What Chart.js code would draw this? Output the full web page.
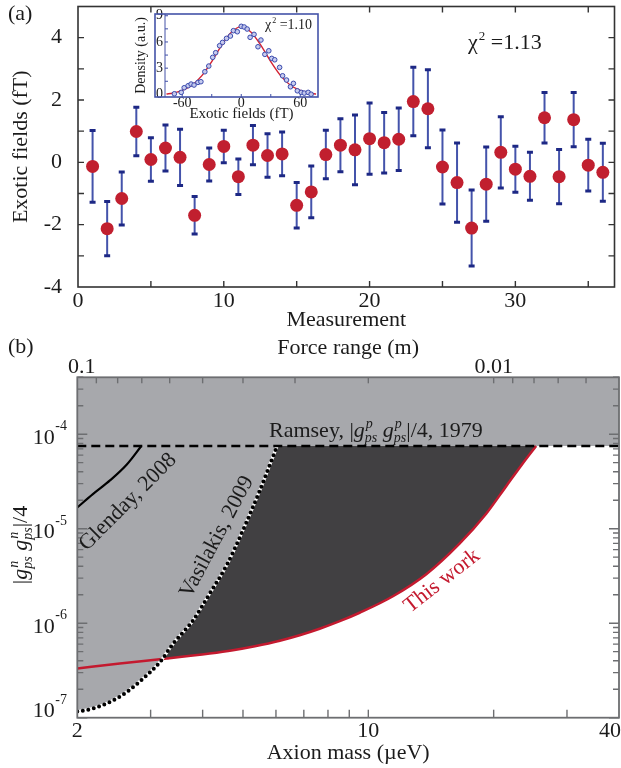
<!DOCTYPE html>
<html>
<head>
<meta charset="utf-8">
<script src="https://cdn.jsdelivr.net/npm/chart.js@4.4.1/dist/chart.umd.min.js"></script>
<style>
  html, body { margin: 0; padding: 0; background: #fff; width: 621px; height: 768px; overflow: hidden; }
  canvas { position: absolute; }
  #panelA { left: 0; top: 0; }
  #panelB { left: 0; top: 335px; }
  #inset { left: 120px; top: 0; }
</style>
</head>
<body>
<canvas id="panelA" width="621" height="335"></canvas>
<canvas id="panelB" width="621" height="433"></canvas>
<canvas id="inset" width="210" height="125"></canvas>
<script>
// ---------- (a) measured exotic fields ----------
const measurement = [1,2,3,4,5,6,7,8,9,10,11,12,13,14,15,16,17,18,19,20,21,22,23,24,25,26,27,28,29,30,31,32,33,34,35,36];
const exoticField = [-0.13,-2.13,-1.16,0.99,0.09,0.46,0.16,-1.70,-0.07,0.51,-0.46,0.55,0.22,0.27,-1.38,-0.95,
                     0.25,0.55,0.40,0.76,0.63,0.74,1.95,1.72,-0.15,-0.65,-2.11,-0.70,0.32,-0.22,-0.45,1.43,-0.46,1.37,-0.09,-0.32];
const fieldError  = [1.15,0.87,0.85,0.78,0.70,0.74,0.90,0.60,0.53,0.52,0.57,0.63,0.70,0.70,0.73,0.83,
                     0.78,0.85,1.12,1.14,0.97,1.00,1.10,1.25,1.19,1.27,1.22,1.19,1.14,0.74,0.77,0.81,0.87,0.87,0.83,0.93];
const measurementTickLabels = [0, 10, 20, 30];
const measurementTickMarks = [5, 10, 15, 20, 25, 30, 35];
const fieldTickLabels = [-4, -2, 0, 2, 4];
const fieldTickMarks = [-3, -2, -1, 0, 1, 2, 3, 4];

// ---------- inset: distribution of the fields ----------
const histField   = [-68,-61,-58,-54,-51,-48,-44,-41,-37,-33,-29,-26,-22,-19,-15,-11,-8,-4,0,3,6,9,13,17,20,24,28,31,34,39,42,46,50,53,57,61,64,68,71];
const histDensity = [0.07,0.23,0.76,0.99,1.18,1.07,1.37,1.45,2.59,3.24,4.24,4.77,5.57,5.95,6.41,6.68,7.29,7.17,7.79,7.71,7.48,6.53,6.87,5.45,6.22,4.58,4.99,4.12,3.96,3.09,2.13,1.64,0.87,1.26,0.41,0.23,0.15,0.23,0.02];
const fitField    = [-76,-70,-60,-50,-40,-30,-20,-10,0,10,20,30,40,50,60,70,76];
const fitDensity  = [0.04,0.13,0.45,1.05,2.15,3.75,5.6,7.1,7.75,7.1,5.6,3.75,2.15,1.05,0.45,0.13,0.04];
const insetFieldTicks = [-60, 0, 60];
const insetDensityTicks = [0, 3, 6, 9];

// ---------- (b) coupling limits vs axion mass (µeV) ----------
const glendayMass = [2.0, 2.18, 2.40, 2.63, 2.85];
const glendayCoupling = [1.68e-5, 2.32e-5, 3.26e-5, 4.78e-5, 7.5e-5];
const ramseyMass = [2, 40];
const ramseyCoupling = [7.5e-5, 7.5e-5];
const vasilakisMass = [2.0, 2.18, 2.40, 2.63, 2.88, 3.16, 3.40, 3.80, 4.16, 4.57, 5.00, 5.49, 5.90, 6.04];
const vasilakisCoupling = [1.16e-7, 1.25e-7, 1.47e-7, 1.87e-7, 2.60e-7, 3.89e-7, 6.09e-7, 1.08e-6, 2.06e-6, 4.11e-6, 9.64e-6, 2.55e-5, 5.75e-5, 7.5e-5];
const thisWorkMass = [2.0, 2.53, 3.28, 4.16, 4.73, 5.34, 6.13, 6.84, 7.64, 8.54, 9.53, 11.46, 13.78, 16.56, 19.19, 21.44, 23.49, 25.3];
const thisWorkCoupling = [3.32e-7, 3.75e-7, 4.23e-7, 4.78e-7, 5.18e-7, 5.71e-7, 6.53e-7, 7.46e-7, 8.74e-7, 1.05e-6, 1.29e-6, 1.93e-6, 3.30e-6, 6.94e-6, 1.44e-5, 2.82e-5, 4.9e-5, 7.5e-5];
const massTickLabels = [2, 10, 40];
const massTickMarks = [3, 4, 5, 6, 7, 8, 9, 10, 20, 30];
const rangeTickLabels = [0.1, 0.01];
const rangeTickMarks = [0.09, 0.08, 0.07, 0.06, 0.05, 0.04, 0.03, 0.02, 0.01, 0.009, 0.008, 0.007, 0.006];
const couplingDecades = [-7, -6, -5, -4];
const RANGE_TIMES_MASS = 0.2; // force range (m) x axion mass (µeV)

const couplingMajor = couplingDecades.map(e => Math.pow(10, e));
const couplingMinor = [];
couplingDecades.forEach(e => { for (let k = 2; k <= 9; k++) { const v = k * Math.pow(10, e); if (v <= 4e-4) couplingMinor.push(v); } });

const FONT = "'Liberation Serif', 'Times New Roman', serif";
const INK = '#1b1b1b';
const LIGHT = '#a7a8ac';
const DARK = '#414042';
const RED = '#c41a2f';
Chart.defaults.font.family = FONT;
Chart.defaults.color = INK;

const zip = (xs, ys) => xs.map((x, i) => ({ x, y: ys[i] }));
// fixed axis box sizes, no extra room for end labels
const fixWidth = w => s => { s.width = w; s.paddingTop = s.paddingBottom = s.paddingLeft = s.paddingRight = 0; };
const fixHeight = h => s => { s.height = h; s.paddingTop = s.paddingBottom = s.paddingLeft = s.paddingRight = 0; };

// inward tick marks and the frame round the plot area
Chart.register({
  id: 'innerTicks',
  afterDatasetsDraw(chart, args, opts) {
    const { ctx, chartArea: a } = chart;
    ctx.save();
    ctx.strokeStyle = opts.color || '#333';
    ctx.lineWidth = opts.width || 1.4;
    (opts.marks || []).forEach(m => {
      const s = chart.scales[m.scale];
      m.values.forEach(v => {
        const p = s.getPixelForValue(v);
        ctx.beginPath();
        m.sides.forEach(side => {
          if (side === 'bottom') { ctx.moveTo(p, a.bottom); ctx.lineTo(p, a.bottom - m.len); }
          if (side === 'top') { ctx.moveTo(p, a.top); ctx.lineTo(p, a.top + m.len); }
          if (side === 'left') { ctx.moveTo(a.left, p); ctx.lineTo(a.left + m.len, p); }
          if (side === 'right') { ctx.moveTo(a.right, p); ctx.lineTo(a.right - m.len, p); }
        });
        ctx.stroke();
      });
    });
    if (opts.frame) {
      ctx.strokeStyle = opts.frame;
      ctx.lineWidth = opts.frameWidth || 1.5;
      ctx.strokeRect(a.left, a.top, a.right - a.left, a.bottom - a.top);
    }
    ctx.restore();
  }
});

// text with italic symbols and stacked super/subscripts
function drawRich(ctx, parts, x, y, size) {
  let cx = x;
  parts.forEach(p => {
    if (p.t !== undefined) {
      ctx.font = (p.i ? 'italic ' : '') + size + 'px ' + FONT;
      ctx.fillText(p.t, cx, y);
      cx += ctx.measureText(p.t).width;
    } else {
      const s = Math.round(size * 0.62);
      ctx.font = 'italic ' + s + 'px ' + FONT;
      const w1 = ctx.measureText(p.sup).width, w2 = ctx.measureText(p.sub).width;
      ctx.fillText(p.sup, cx + 1, y - size * 0.40);
      ctx.fillText(p.sub, cx, y + size * 0.22);
      cx += Math.max(w1 + 1, w2);
    }
  });
  return cx - x;
}
function richWidth(ctx, parts, size) {
  ctx.save(); ctx.globalAlpha = 0;
  const w = drawRich(ctx, parts, 0, 0, size);
  ctx.restore();
  return w;
}
function drawChi(ctx, x, y, size, value) {
  ctx.font = size + 'px ' + FONT;
  ctx.fillText('\u03C7', x, y);
  let cx = x + ctx.measureText('\u03C7').width + 1;
  ctx.font = Math.round(size * 0.6) + 'px ' + FONT;
  ctx.fillText('2', cx, y - size * 0.42);
  cx += ctx.measureText('2').width;
  ctx.font = size + 'px ' + FONT;
  ctx.fillText(' =' + value, cx, y);
}

// ---------- panel (a) ----------
const errorBarPoints = [];
measurement.forEach((m, i) => {
  errorBarPoints.push({ x: m, y: exoticField[i] - fieldError[i] });
  errorBarPoints.push({ x: m, y: exoticField[i] + fieldError[i] });
  errorBarPoints.push({ x: m, y: null });
});

new Chart(document.getElementById('panelA'), {
  type: 'line',
  data: {
    datasets: [
      { label: 'Exotic fields', data: zip(measurement, exoticField), showLine: false,
        pointRadius: 6.5, pointHoverRadius: 6.5, pointBackgroundColor: '#c11f2f', pointBorderWidth: 0, order: 0 },
      { label: 'Uncertainty', data: errorBarPoints, borderColor: '#4453ab', borderWidth: 2, spanGaps: false,
        pointStyle: 'line', pointRadius: 3, pointHoverRadius: 3, pointBorderColor: '#1d2885', pointBorderWidth: 3, order: 1 }
    ]
  },
  options: {
    responsive: false, animation: false,
    layout: { padding: { top: 4, right: 5, left: 0, bottom: 0 } },
    plugins: {
      legend: { display: false }, tooltip: { enabled: false },
      innerTicks: {
        color: '#333', width: 1.4, frame: '#333', frameWidth: 1.6,
        marks: [
          { scale: 'x', values: measurementTickMarks, len: 6, sides: ['top', 'bottom'] },
          { scale: 'y', values: fieldTickMarks, len: 6, sides: ['left', 'right'] }
        ]
      }
    },
    scales: {
      x: {
        type: 'linear', min: 0, max: 36.8,
        grid: { display: false, drawTicks: false }, border: { display: false },
        afterBuildTicks: s => { s.ticks = measurementTickLabels.map(v => ({ value: v })); },
        afterFit: fixHeight(48),
        ticks: { font: { size: 22 }, padding: 1, maxRotation: 0, color: INK },
        title: { display: true, text: 'Measurement', font: { size: 22 }, color: INK, padding: { top: 0, bottom: 2 } }
      },
      y: {
        type: 'linear', min: -4, max: 5,
        grid: { display: false, drawTicks: false }, border: { display: false },
        afterBuildTicks: s => { s.ticks = fieldTickLabels.map(v => ({ value: v })); },
        afterFit: fixWidth(78),
        ticks: { font: { size: 22 }, padding: 16, color: INK, callback: v => String(v) },
        title: { display: true, text: 'Exotic fields (fT)', font: { size: 22 }, color: INK, padding: { top: 8, bottom: 0 } }
      }
    }
  },
  plugins: [{
    id: 'panelAText',
    afterDraw(chart) {
      const ctx = chart.ctx;
      ctx.save();
      ctx.fillStyle = INK; ctx.textBaseline = 'alphabetic'; ctx.textAlign = 'left';
      ctx.font = '22px ' + FONT;
      ctx.fillText('(a)', 8, 20);
      drawChi(ctx, 468, 49, 22, '1.13');
      ctx.restore();
    }
  }]
});

// ---------- inset ----------
new Chart(document.getElementById('inset'), {
  type: 'line',
  data: {
    datasets: [
      { label: 'Histogram', data: zip(histField, histDensity), showLine: false, pointRadius: 2.3, pointHoverRadius: 2.3,
        pointBackgroundColor: 'rgba(196,202,238,0.95)', pointBorderColor: '#3a4aae', pointBorderWidth: 1, order: 0 },
      { label: 'Gaussian fit', data: zip(fitField, fitDensity), borderColor: '#d42232', borderWidth: 1.4,
        pointRadius: 0, cubicInterpolationMode: 'monotone', order: 1 }
    ]
  },
  options: {
    responsive: false, animation: false,
    layout: { padding: { top: 14, right: 12, left: 0, bottom: 0 } },
    plugins: {
      legend: { display: false }, tooltip: { enabled: false },
      innerTicks: {
        color: '#3f4ea6', width: 1,
        marks: [
          { scale: 'x', values: [-60, -30, 0, 30, 60], len: 3, sides: ['bottom'] },
          { scale: 'y', values: [1.5, 3, 4.5, 6, 7.5, 9], len: 3, sides: ['left'] }
        ]
      }
    },
    scales: {
      x: {
        type: 'linear', min: -77.5, max: 78,
        grid: { display: false, drawTicks: false }, border: { display: false },
        afterBuildTicks: s => { s.ticks = insetFieldTicks.map(v => ({ value: v })); },
        afterFit: fixHeight(28),
        ticks: { font: { size: 14 }, padding: -2, maxRotation: 0, color: INK },
        title: { display: true, text: 'Exotic fields (fT)', font: { size: 15 }, color: INK, padding: { top: 0, bottom: 2 } }
      },
      y: {
        type: 'linear', min: -0.3, max: 9.2,
        grid: { display: false, drawTicks: false }, border: { display: false },
        afterBuildTicks: s => { s.ticks = insetDensityTicks.map(v => ({ value: v })); },
        afterFit: fixWidth(45),
        ticks: { font: { size: 14 }, padding: 2, color: INK },
        title: { display: true, text: 'Density (a.u.)', font: { size: 14 }, color: INK, padding: { top: 13, bottom: 0 } }
      }
    }
  },
  plugins: [{
    id: 'insetFrame',
    beforeDraw(chart) {
      const { ctx, chartArea: a } = chart;
      ctx.save();
      ctx.fillStyle = '#fff';
      ctx.fillRect(35, a.top, a.right - 35, a.bottom - a.top);
      ctx.restore();
    },
    afterDraw(chart) {
      const { ctx, chartArea: a } = chart;
      ctx.save();
      ctx.strokeStyle = '#4453a8'; ctx.lineWidth = 1.6;
      ctx.strokeRect(35, a.top, a.right - 35, a.bottom - a.top);
      ctx.lineWidth = 1;
      ctx.beginPath(); ctx.moveTo(a.left, a.top); ctx.lineTo(a.left, a.bottom); ctx.stroke();
      ctx.fillStyle = INK; ctx.textAlign = 'left'; ctx.textBaseline = 'alphabetic';
      drawChi(ctx, 145, 29, 14, '1.10');
      ctx.restore();
    }
  }]
});

// ---------- panel (b) ----------
const ramseyLabel = [{ t: 'Ramsey, ' }, { t: '|' }, { t: 'g', i: true }, { sup: 'p', sub: 'ps' },
                     { t: ' ' }, { t: 'g', i: true }, { sup: 'p', sub: 'ps' }, { t: '|/4, 1979' }];
const couplingTitle = [{ t: '|' }, { t: 'g', i: true }, { sup: 'n', sub: 'ps' },
                       { t: ' ' }, { t: 'g', i: true }, { sup: 'n', sub: 'ps' }, { t: '|/4' }];

new Chart(document.getElementById('panelB'), {
  type: 'line',
  data: {
    datasets: [
      { label: 'Glenday, 2008', data: zip(glendayMass, glendayCoupling), borderColor: '#000', borderWidth: 2.2,
        pointRadius: 0, fill: false, cubicInterpolationMode: 'monotone' },
      { label: 'Ramsey, 1979', data: zip(ramseyMass, ramseyCoupling), borderColor: '#000', borderWidth: 2.5,
        borderDash: [9, 5], pointRadius: 0, fill: 'end', backgroundColor: LIGHT },
      { label: 'Vasilakis, 2009', data: zip(vasilakisMass, vasilakisCoupling), borderColor: '#000', borderWidth: 4,
        borderDash: [0, 5.6], borderCapStyle: 'round', pointRadius: 0, fill: false, cubicInterpolationMode: 'monotone' },
      { label: 'Vasilakis, 2009 region', data: zip(vasilakisMass, vasilakisCoupling), borderColor: '#ffffff', borderWidth: 3,
        pointRadius: 0, fill: 'end', backgroundColor: LIGHT, cubicInterpolationMode: 'monotone' },
      { label: 'This work', data: zip(thisWorkMass, thisWorkCoupling), borderColor: RED, borderWidth: 2.5,
        pointRadius: 0, fill: 'end', backgroundColor: DARK, cubicInterpolationMode: 'monotone' }
    ]
  },
  options: {
    responsive: false, animation: false,
    layout: { padding: { top: 0, right: 2, left: 0, bottom: 0 } },
    plugins: {
      legend: { display: false }, tooltip: { enabled: false },
      filler: { drawTime: 'beforeDatasetsDraw' },
      innerTicks: {
        color: '#6d6e71', width: 1.4, frame: '#6d6e71', frameWidth: 1.8,
        marks: [
          { scale: 'x', values: massTickMarks, len: 8, sides: ['bottom'] },
          { scale: 'x2', values: rangeTickMarks.map(r => RANGE_TIMES_MASS / r), len: 6, sides: ['top'] },
          { scale: 'y', values: couplingMajor, len: 10, sides: ['left', 'right'] },
          { scale: 'y', values: couplingMinor, len: 6, sides: ['left', 'right'] }
        ]
      }
    },
    scales: {
      x: {
        type: 'logarithmic', position: 'bottom', min: 2, max: 40,
        grid: { display: false, drawTicks: false }, border: { display: false },
        ticks: { display: false },
        afterFit: fixHeight(50.3),
        title: { display: true, text: 'Axion mass (\u00B5eV)', font: { size: 22 }, color: INK, padding: { top: 0, bottom: 2 } }
      },
      x2: {
        type: 'logarithmic', position: 'top', min: 2, max: 40,
        grid: { display: false, drawTicks: false }, border: { display: false },
        ticks: { display: false },
        afterFit: fixHeight(42.3),
        title: { display: true, text: 'Force range (m)', font: { size: 22 }, color: INK, padding: { top: 0, bottom: 0 } }
      },
      y: {
        type: 'logarithmic', min: 1e-7, max: 4e-4,
        grid: { display: false, drawTicks: false }, border: { display: false },
        ticks: { display: false },
        afterFit: fixWidth(77.3)
      }
    }
  },
  plugins: [{
    id: 'panelBText',
    afterDraw(chart) {
      const { ctx, chartArea: a } = chart;
      const xs = chart.scales.x, x2 = chart.scales.x2, ys = chart.scales.y;
      ctx.save();
      ctx.fillStyle = INK; ctx.textBaseline = 'alphabetic';

      ctx.font = '22px ' + FONT; ctx.textAlign = 'left';
      ctx.fillText('(b)', 8, 18);

      // coupling decade labels
      couplingDecades.forEach(e => {
        const py = Math.min(ys.getPixelForValue(Math.pow(10, e)) + 2, a.bottom - 8);
        ctx.font = '14px ' + FONT;
        const exp = '-' + Math.abs(e);
        const we = ctx.measureText(exp).width;
        ctx.textAlign = 'left';
        ctx.fillText(exp, 67 - we, py - 6);
        ctx.font = '22px ' + FONT;
        const wt = ctx.measureText('10').width;
        ctx.fillText('10', 67 - we - wt - 0.5, py + 7.5);
      });

      // axion mass labels
      ctx.font = '22px ' + FONT;
      massTickLabels.forEach(m => {
        const t = String(m);
        const w = ctx.measureText(t).width;
        let px = xs.getPixelForValue(m) - w / 2;
        px = Math.max(68, Math.min(px, chart.width - w));
        ctx.textAlign = 'left';
        ctx.fillText(t, px, 402);
      });

      // force range labels
      rangeTickLabels.forEach(r => {
        const t = String(r);
        const w = ctx.measureText(t).width;
        let px = x2.getPixelForValue(RANGE_TIMES_MASS / r) - w / 2;
        px = Math.max(68, px);
        ctx.fillText(t, px, 38);
      });

      // Ramsey label
      drawRich(ctx, ramseyLabel, 269, 102, 22);

      // rotated curve labels
      const rotated = (text, cx, cy, deg, color) => {
        ctx.save();
        ctx.translate(cx, cy); ctx.rotate(deg * Math.PI / 180);
        ctx.fillStyle = color; ctx.font = '22px ' + FONT;
        ctx.textAlign = 'center'; ctx.textBaseline = 'middle';
        ctx.fillText(text, 0, 0);
        ctx.restore();
      };
      rotated('Glenday, 2008', 128, 167, -45, INK);
      rotated('Vasilakis, 2009', 217, 202, -62, INK);
      rotated('This work', 442, 246, -38, RED);

      // vertical coupling title
      ctx.save();
      ctx.translate(27, 210); ctx.rotate(-Math.PI / 2);
      ctx.textAlign = 'left';
      const wt = richWidth(ctx, couplingTitle, 22);
      ctx.fillStyle = INK;
      drawRich(ctx, couplingTitle, -wt / 2, 0, 22);
      ctx.restore();

      ctx.restore();
    }
  }]
});
</script>
</body>
</html>
